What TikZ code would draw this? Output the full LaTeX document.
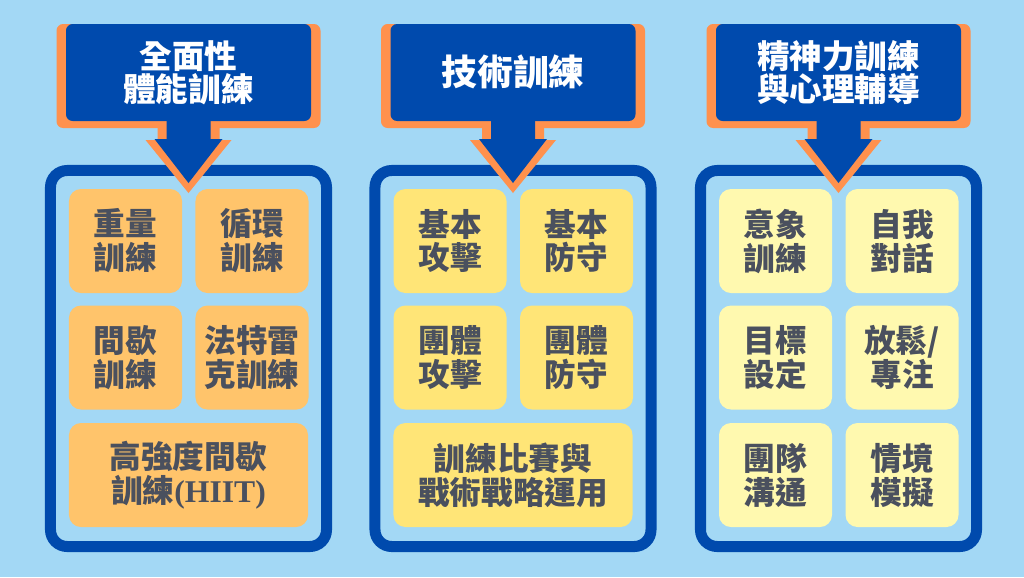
\documentclass[tikz,border=0pt]{standalone}
\usepackage{fontspec}
\newfontfamily\cjk{Noto Sans CJK TC}
\newfontfamily\lser{Liberation Serif}
\definecolor{bg}{HTML}{A3D8F5}
\definecolor{navy}{HTML}{004AAD}
\definecolor{orng}{HTML}{FF914D}
\definecolor{boxA}{HTML}{FFC46B}
\definecolor{boxB}{HTML}{FFE577}
\definecolor{boxC}{HTML}{FFF9AF}
\definecolor{txt}{HTML}{4A505E}
\newcommand\callout[4][]{%
  \fill[orng, rounded corners=0.2cm] (#2-132,24) rectangle (#2+132,128);
  \fill[orng] (#2-31,120) -- (#2+31,120) -- (#2+31,140) -- (#2+43,140) -- (#2,193) -- (#2-43,140) -- (#2-31,140) -- cycle;
  \fill[navy, rounded corners=0.2cm] (#2-122.5,24) rectangle (#2+122.5,121);
  \fill[navy] (#2-22,115) -- (#2+22,115) -- (#2+22,139) -- (#2+34,139) -- (#2,183) -- (#2-34,139) -- (#2-22,139) -- cycle;
  \node[headtext,#1] (#3) at (#2,72.5) {#4};
}
\begin{document}
\begin{tikzpicture}[x=0.03cm,y=-0.03cm,
  headtext/.style={align=center, text=white, inner sep=0pt, font=\cjk\bfseries\fontsize{27.8}{28.5}\selectfont},
  bighead/.style={font=\cjk\bfseries\fontsize{30.5}{31}\selectfont},
  frame/.style={draw=navy, line width=0.33cm, rounded corners=0.5cm, minimum width=8.28cm, minimum height=11.28cm, inner sep=0pt},
  item/.style={rectangle, rounded corners=0.36cm, minimum width=3.39cm, minimum height=3.12cm, inner sep=0pt, align=center, text=txt, font=\cjk\bfseries\fontsize{27}{29}\selectfont},
  wide/.style={item, minimum width=7.17cm},
  itemA/.style={item, fill=boxA},
  itemB/.style={item, fill=boxB},
  itemC/.style={item, fill=boxC}]
\fill[bg] (0,0) rectangle (1024,577);
\useasboundingbox (0,0) rectangle (1024,577);

% containers
\node[frame] (c1) at (188.5,358.5) {};
\node[frame] (c2) at (513,358.5) {};
\node[frame] (c3) at (838.5,358.5) {};

% headers
\callout{188.5}{h1}{全面性\\體能訓練}
\callout[bighead]{513}{h2}{技術訓練}
\callout{838.5}{h3}{精神力訓練\\與心理輔導}

% left column
\node[itemA] (a1) at (125.5,241) {重量\\訓練};
\node[itemA] (a2) at (252,241) {循環\\訓練};
\node[itemA] (a3) at (125.5,357.5) {間歇\\訓練};
\node[itemA] (a4) at (252,357.5) {法特雷\\克訓練};
\node[itemA, wide] (a5) at (188.5,475) {高強度間歇\\訓練{\lser\bfseries(HIIT)}};

% middle column
\node[itemB] (b1) at (450,241) {基本\\攻擊};
\node[itemB] (b2) at (576.5,241) {基本\\防守};
\node[itemB] (b3) at (450,357.5) {團體\\攻擊};
\node[itemB] (b4) at (576.5,357.5) {團體\\防守};
\node[itemB, wide] (b5) at (513,475) {訓練比賽與\\戰術戰略運用};

% right column
\node[itemC] (r1) at (775.5,241) {意象\\訓練};
\node[itemC] (r2) at (902,241) {自我\\對話};
\node[itemC] (r3) at (775.5,357.5) {目標\\設定};
\node[itemC] (r4) at (902,357.5) {放鬆/\\專注};
\node[itemC] (r5) at (775.5,475) {團隊\\溝通};
\node[itemC] (r6) at (902,475) {情境\\模擬};
\end{tikzpicture}
\end{document}
